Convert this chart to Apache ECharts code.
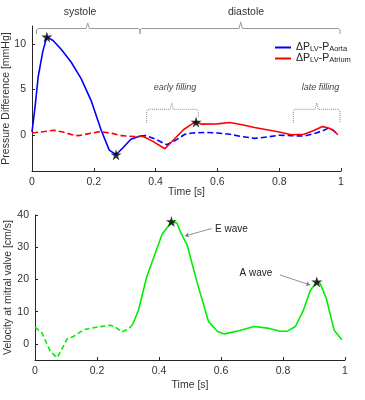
<!DOCTYPE html>
<html>
<head>
<meta charset="utf-8">
<script src="https://cdn.jsdelivr.net/npm/echarts@6/dist/echarts.min.js"></script>
<style>
html, body { margin: 0; padding: 0; background: #fff; }
#chart { width: 365px; height: 400px; }
</style>
</head>
<body>
<div id="chart"></div>
<script>
// pressure difference LV-Aorta (solid during systole, dashed after)
var aortaSolidT = [0, 0.01, 0.02, 0.035, 0.048, 0.068, 0.095, 0.127, 0.159, 0.191, 0.224, 0.25, 0.272, 0.295, 0.32, 0.35];
var aortaSolidP = [0.3, 3.1, 6.4, 9.2, 10.8, 10.4, 9.4, 8.0, 6.2, 3.8, 0.5, -1.7, -2.2, -1.4, -0.5, -0.15];
var aortaDashT = [0.35, 0.37, 0.40, 0.436, 0.465, 0.495, 0.52, 0.56, 0.6, 0.64, 0.68, 0.72, 0.76, 0.8, 0.84, 0.88, 0.92, 0.945, 0.96, 0.975, 0.99];
var aortaDashP = [-0.15, -0.1, -0.5, -1.1, -0.6, 0.05, 0.2, 0.25, 0.2, 0.05, -0.2, -0.4, -0.25, -0.05, -0.1, -0.15, 0.2, 0.5, 0.75, 0.5, 0.0];

// pressure difference LV-Atrium (dashed during systole, solid after)
var atriumDashT = [0, 0.04, 0.07, 0.1, 0.13, 0.15, 0.18, 0.22, 0.26, 0.29, 0.333, 0.36];
var atriumDashP = [0.2, 0.35, 0.5, 0.3, 0.0, -0.1, 0.1, 0.35, 0.15, -0.1, -0.2, -0.2];
var atriumSolidT = [0.36, 0.39, 0.43, 0.46, 0.49, 0.517, 0.531, 0.549, 0.6, 0.64, 0.68, 0.72, 0.76, 0.8, 0.84, 0.88, 0.91, 0.94, 0.96, 0.975, 0.99];
var atriumSolidP = [-0.2, -0.7, -1.55, -0.5, 0.55, 1.17, 1.4, 1.17, 1.2, 1.35, 1.1, 0.8, 0.55, 0.3, 0.0, 0.05, 0.45, 0.9, 0.75, 0.5, 0.0];

var pressurePeaksT = [0.048, 0.272, 0.531];
var pressurePeaksP = [10.8, -2.2, 1.4];

// velocity at mitral valve
var velDashT = [0, 0.022, 0.049, 0.071, 0.092, 0.103, 0.124, 0.157, 0.2, 0.243, 0.26, 0.28, 0.302, 0.315];
var velDashV = [5.2, 3.5, -2.3, -4.3, -0.7, 1.5, 2.3, 4.4, 5.2, 5.8, 5.2, 3.7, 4.6, 6.0];
var velSolidT = [0.315, 0.334, 0.36, 0.383, 0.41, 0.44, 0.458, 0.47, 0.49, 0.524, 0.56, 0.588, 0.61, 0.658, 0.706, 0.75, 0.79, 0.813, 0.84, 0.866, 0.888, 0.909, 0.92, 0.94, 0.965, 0.99];
var velSolidV = [6.0, 10.5, 20.7, 26.8, 34, 37.8, 37.5, 34.5, 30.9, 18.7, 6.9, 3.9, 3.1, 4.1, 5.4, 4.9, 3.9, 3.9, 5.4, 10.5, 16.6, 19.3, 18.7, 14, 4.2, 1.3];

var velPeaksT = [0.44, 0.909];
var velPeaksV = [38, 19.3];

var pressureTicks = [0, 5, 10];
var velTicks = [0, 10, 20, 30, 40];

function pairs(xs, ys) {
  return xs.map(function (x, i) { return [x, ys[i]] })
}

var star = 'path://M50,0 L61,35 L98,35 L68,57 L79,91 L50,70 L21,91 L32,57 L2,35 L39,35 Z';
var font = 'Liberation Sans, Arial, sans-serif';
var axisColor = '#262626';
var textColor = '#333';

function xAxisFor(idx, gap) {
  return {
    gridIndex: idx,
    type: 'value',
    min: 0,
    max: 1,
    interval: 0.2,
    name: 'Time [s]',
    nameLocation: 'middle',
    nameGap: gap,
    nameMoveOverlap: false,
    nameTextStyle: { color: textColor, fontSize: 10.5, fontFamily: font },
    axisLine: { show: true, onZero: false, lineStyle: { color: axisColor, width: 1 } },
    axisTick: { show: true, inside: true, length: 3, lineStyle: { color: axisColor } },
    axisLabel: { color: textColor, fontSize: 10.5, fontFamily: font, margin: 6 },
    splitLine: { show: false }
  }
}

function yAxisFor(idx, min, max, ticks, name, gap) {
  return {
    gridIndex: idx,
    type: 'value',
    min: min,
    max: max,
    name: name,
    nameLocation: 'middle',
    nameGap: gap,
    nameMoveOverlap: false,
    nameTextStyle: { color: textColor, fontSize: 10.5, fontFamily: font },
    axisLine: { show: true, onZero: false, lineStyle: { color: axisColor, width: 1 } },
    axisTick: { show: true, inside: true, length: 3, customValues: ticks, lineStyle: { color: axisColor } },
    axisLabel: { color: textColor, fontSize: 10.5, fontFamily: font, margin: 6, customValues: ticks },
    splitLine: { show: false }
  }
}

var braceStyle = { stroke: '#9a9a9a', fill: null, lineWidth: 1 };
var dotStyle = { stroke: '#8a8a8a', fill: null, lineWidth: 1, lineDash: [1, 1] };

var chart = echarts.init(document.getElementById('chart'));
var option = {
  animation: false,
  backgroundColor: '#fff',
  grid: [
    { left: 32, right: 24, top: 26, bottom: 229, outerBoundsMode: 'none', containLabel: false },
    { left: 35, right: 20, top: 215, bottom: 40, outerBoundsMode: 'none', containLabel: false }
  ],
  xAxis: [xAxisFor(0, 16), xAxisFor(1, 20)],
  yAxis: [
    yAxisFor(0, -4, 12, pressureTicks, 'Pressure Difference [mmHg]', 20),
    yAxisFor(1, -5, 40, velTicks, 'Velocity at mitral valve [cm/s]', 21)
  ],
  legend: {
    orient: 'vertical',
    left: 270,
    top: 37,
    itemWidth: 16,
    itemHeight: 2,
    itemGap: 0,
    icon: 'rect',
    selectedMode: false,
    data: ['aorta', 'atrium'],
    formatter: function (name) {
      return name === 'aorta'
        ? '{n|ΔP}{s|LV}{n|-P}{s|Aorta}'
        : '{n|ΔP}{s|LV}{n|-P}{s|Atrium}'
    },
    textStyle: {
      fontFamily: font,
      rich: {
        n: { fontSize: 10.5, lineHeight: 8, color: '#222', fontFamily: font },
        s: { fontSize: 7.5, lineHeight: 8, color: '#222', fontFamily: font, padding: [3, 0, 0, 0] }
      }
    }
  },
  series: [
    {
      name: 'aorta', type: 'line', xAxisIndex: 0, yAxisIndex: 0,
      data: pairs(aortaSolidT, aortaSolidP), showSymbol: false,
      itemStyle: { color: '#0000ff' }, lineStyle: { color: '#0000ff', width: 1.6 }
    },
    {
      name: 'aorta_d', type: 'line', xAxisIndex: 0, yAxisIndex: 0,
      data: pairs(aortaDashT, aortaDashP), showSymbol: false,
      lineStyle: { color: '#0000ff', width: 1.6, type: [6, 3] }
    },
    {
      name: 'atrium_d', type: 'line', xAxisIndex: 0, yAxisIndex: 0,
      data: pairs(atriumDashT, atriumDashP), showSymbol: false,
      lineStyle: { color: '#ff0000', width: 1.6, type: [6, 3] }
    },
    {
      name: 'atrium', type: 'line', xAxisIndex: 0, yAxisIndex: 0,
      data: pairs(atriumSolidT, atriumSolidP), showSymbol: false,
      itemStyle: { color: '#ff0000' }, lineStyle: { color: '#ff0000', width: 1.6 }
    },
    {
      name: 'pressure peaks', type: 'scatter', xAxisIndex: 0, yAxisIndex: 0,
      data: pairs(pressurePeaksT, pressurePeaksP), symbol: star, symbolSize: 11,
      itemStyle: { color: '#000' }, z: 5
    },
    {
      name: 'vel_d', type: 'line', xAxisIndex: 1, yAxisIndex: 1,
      data: pairs(velDashT, velDashV), showSymbol: false,
      lineStyle: { color: '#00ee00', width: 1.6, type: [5, 3] }
    },
    {
      name: 'vel', type: 'line', xAxisIndex: 1, yAxisIndex: 1,
      data: pairs(velSolidT, velSolidV), showSymbol: false,
      lineStyle: { color: '#00ee00', width: 1.6 },
      markLine: {
        silent: true,
        symbol: ['none', 'arrow'],
        symbolSize: 4,
        label: { show: false },
        lineStyle: { color: '#777', width: 0.8, type: 'solid' },
        data: [
          [{ coord: [0.57, 35.8] }, { coord: [0.484, 33.5] }],
          [{ coord: [0.79, 21.4] }, { coord: [0.887, 18.3] }]
        ]
      }
    },
    {
      name: 'velocity peaks', type: 'scatter', xAxisIndex: 1, yAxisIndex: 1,
      data: pairs(velPeaksT, velPeaksV), symbol: star, symbolSize: 11,
      itemStyle: { color: '#000' }, z: 5
    }
  ],
  graphic: [
    // systole / diastole braces
    { type: 'polyline', silent: true, shape: { points: [[36.5, 34], [36.5, 30], [38, 28.5], [86, 28.5], [87.7, 23], [89.4, 28.5], [138.5, 28.5], [140, 30], [140, 34]] }, style: braceStyle },
    { type: 'polyline', silent: true, shape: { points: [[140, 34], [140, 30], [141.5, 28.5], [239, 28.5], [240.7, 22], [242.4, 28.5], [338.5, 28.5], [340, 30], [340, 34]] }, style: braceStyle },
    { type: 'text', silent: true, x: 80, y: 12, style: { text: 'systole', fontSize: 10.5, fontFamily: font, fill: textColor, align: 'center', verticalAlign: 'middle' } },
    { type: 'text', silent: true, x: 246, y: 12.5, style: { text: 'diastole', fontSize: 10.5, fontFamily: font, fill: textColor, align: 'center', verticalAlign: 'middle' } },
    // filling braces
    { type: 'polyline', silent: true, shape: { points: [[146.7, 123], [146.7, 111], [148.2, 109.3], [170, 109.3], [171.7, 103], [173.4, 109.3], [196.8, 109.3], [198.3, 111], [198.3, 117]] }, style: dotStyle },
    { type: 'polyline', silent: true, shape: { points: [[293.3, 123], [293.3, 111], [294.8, 109.3], [315, 109.3], [316.7, 103], [318.4, 109.3], [338.5, 109.3], [340, 111], [340, 123]] }, style: dotStyle },
    { type: 'text', silent: true, x: 175, y: 87.5, style: { text: 'early filling', fontSize: 9, fontStyle: 'italic', fontFamily: font, fill: '#444', align: 'center', verticalAlign: 'middle' } },
    { type: 'text', silent: true, x: 320.5, y: 87, style: { text: 'late filling', fontSize: 9, fontStyle: 'italic', fontFamily: font, fill: '#444', align: 'center', verticalAlign: 'middle' } },
    // wave labels
    { type: 'text', silent: true, x: 215, y: 229, style: { text: 'E wave', fontSize: 10, fontFamily: font, fill: '#222', align: 'left', verticalAlign: 'middle' } },
    { type: 'text', silent: true, x: 256, y: 273.5, style: { text: 'A wave', fontSize: 10, fontFamily: font, fill: '#222', align: 'center', verticalAlign: 'middle' } }
  ]
};
chart.setOption(option);
</script>
</body>
</html>
